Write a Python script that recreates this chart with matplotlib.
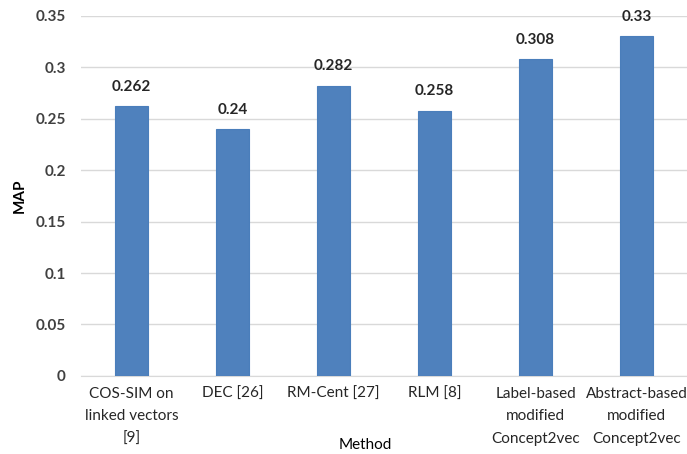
import matplotlib
matplotlib.use('Agg')
import matplotlib.pyplot as plt

methods = ['COS-SIM on\nlinked vectors\n[9]', 'DEC [26]', 'RM-Cent [27]', 'RLM [8]',
           'Label-based\nmodified\nConcept2vec', 'Abstract-based\nmodified\nConcept2vec']
map_values = [0.262, 0.24, 0.282, 0.258, 0.308, 0.33]
value_labels = ['0.262', '0.24', '0.282', '0.258', '0.308', '0.33']
y_ticks = [0, 0.05, 0.1, 0.15, 0.2, 0.25, 0.3, 0.35]
y_tick_labels = ['0', '0.05', '0.1', '0.15', '0.2', '0.25', '0.3', '0.35']

plt.rcParams['font.family'] = ['Lato', 'DejaVu Sans']

fig = plt.figure(figsize=(6.87, 4.54), dpi=100)
ax = fig.add_axes([0.118, 0.172, 0.882, 0.793])

x = range(len(methods))
ax.bar(x, map_values, width=0.33, color='#4F81BD', edgecolor='#4A7EBB', linewidth=0.8, zorder=3)
for i, (v, lab) in enumerate(zip(map_values, value_labels)):
    ax.text(i, v + 0.012, lab, ha='center', va='bottom', fontsize=11, fontweight='bold', color='#262626')

ax.set_xlim(-0.5, 5.5)
ax.set_ylim(0, 0.35)
ax.set_yticks(y_ticks)
ax.set_yticklabels(y_tick_labels, fontsize=11, fontweight='bold', color='#404040')
ax.set_xticks(list(x))
ax.set_xticklabels(methods, fontsize=11, color='#262626', linespacing=1.75)
ax.tick_params(axis='both', length=0)
ax.tick_params(axis='y', pad=11)
ax.tick_params(axis='x', pad=8)
ax.yaxis.grid(True, color='#D9D9D9', linewidth=1, zorder=0)
for s in ['top', 'right', 'left']:
    ax.spines[s].set_visible(False)
ax.spines['bottom'].set_color('#D9D9D9')
fig.text(20 / 687, 1 - 196 / 454, 'MAP', ha='center', va='center', rotation=90,
         fontsize=11, fontweight='bold', color='#000000')
fig.text(365 / 687, 1 - 445 / 454, 'Method', ha='center', va='center', fontsize=11, color='#000000')

fig.savefig('out.png', dpi=100)
